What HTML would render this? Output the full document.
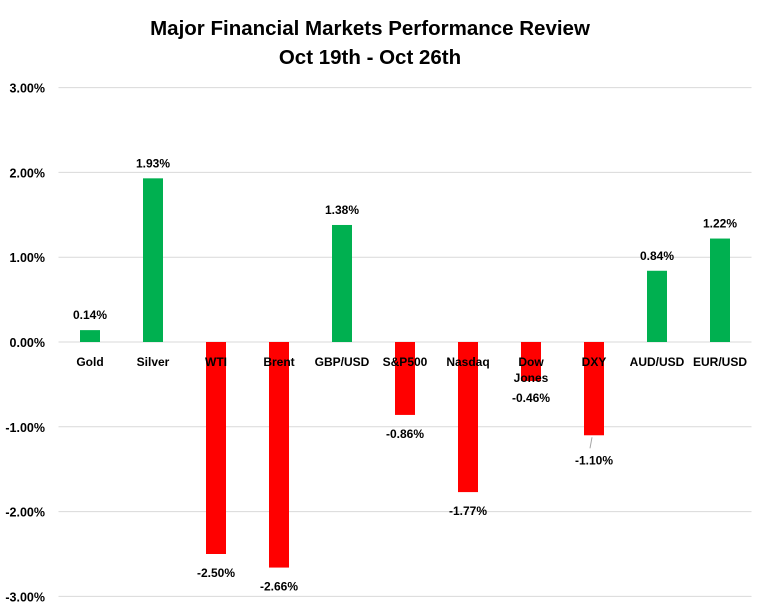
<!DOCTYPE html>
<html><head><meta charset="utf-8"><style>
body{margin:0;background:#fff;}
svg{display:block;font-family:"Liberation Sans",sans-serif;}
</style></head><body>
<svg id="chart" width="767" height="610">
<text x="370" y="35" text-anchor="middle" font-size="20.5" font-weight="bold">Major Financial Markets Performance Review</text>
<text x="370" y="64" text-anchor="middle" font-size="20.5" font-weight="bold">Oct 19th - Oct 26th</text>
<g id="grid"></g><g id="bars"></g><g id="labels"></g>
</svg>
<script>
const categories=["Gold","Silver","WTI","Brent","GBP/USD","S&P500","Nasdaq","Dow Jones","DXY","AUD/USD","EUR/USD"];
const values=[0.14,1.93,-2.50,-2.66,1.38,-0.86,-1.77,-0.46,-1.10,0.84,1.22];
const ticks=[3,2,1,0,-1,-2,-3];
const NS="http://www.w3.org/2000/svg";
const left=58.5,right=751.5,y0=342,pxPer=84.8;
const step=(right-left)/categories.length;
function y(v){return y0-v*pxPer;}
function x(i){return left+step*(i+0.5);}
function mk(tag,attrs,parent,txt){const e=document.createElementNS(NS,tag);for(const k in attrs)e.setAttribute(k,attrs[k]);if(txt!==undefined)e.textContent=txt;document.getElementById(parent).appendChild(e);return e;}
ticks.forEach(t=>{
  const l=mk('line',{x1:left,x2:right,y1:y(t),y2:y(t),stroke:'#d9d9d9','stroke-width':1},'grid');
  
  
  const tx=mk('text',{x:45,y:y(t)+5,'text-anchor':'end','font-size':12.5,'font-weight':'bold'},'grid',t.toFixed(2)+'%');
  
  
});
categories.forEach((c,i)=>{
  const v=values[i],cx=x(i);
  const r=mk('rect',{x:cx-10,y:Math.min(y(v),y0),width:20,height:Math.abs(y(v)-y0),fill:v>=0?'#00b050':'#ff0000'},'bars');
  
  
  const parts=c==='Dow Jones'?['Dow','Jones']:[c];
  parts.forEach((p,k)=>{
    const t=mk('text',{x:cx,y:366+k*16,'text-anchor':'middle','font-size':12,'font-weight':'bold'},'labels',p);
    
    
  });
  let ly;
  if(v>=0) ly=y(v)-11;
  else if(c==='Dow Jones') ly=402;
  else if(c==='DXY') ly=y(v)+29;
  else ly=y(v)+23;
  if(c==='DXY'){
    const ln=mk('line',{x1:cx-2,y1:y(v)+2,x2:cx-4,y2:y(v)+13,stroke:'#a6a6a6'},'labels');
    
    
  }
  const vt=mk('text',{x:cx,y:ly,'text-anchor':'middle','font-size':12,'font-weight':'bold'},'labels',v.toFixed(2)+'%');
  
  
});
</script>
</body></html>
